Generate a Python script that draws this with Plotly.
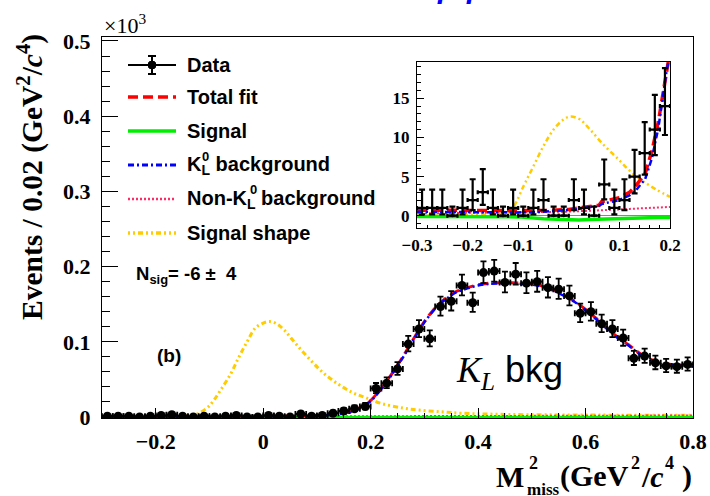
import numpy as np
import plotly.graph_objects as go

# ---------------- data (events per 0.02 GeV^2/c^4) ----------------
bin_centers = np.round(-0.29 + 0.02 * np.arange(55), 2)
counts = [1, 1, 1, 0, 1, 2, 3, 1, 0, 1, 0, 1, 2, 0, 0, 2, 1, 0, 4, 1, 2, 5, 8, 11, 14,
          38, 45, 64, 97, 117, 104, 147, 154, 175, 152, 192, 194, 179, 190, 178, 180,
          172, 170, 161, 138, 140, 124, 117, 105, 78, 81, 72, 68, 67, 70]

# main-panel curves (units of 10^3 events)
tot_x = [-0.3, -0.2, -0.1, 0.0, 0.05, 0.1, 0.13, 0.15, 0.17, 0.19, 0.20, 0.22, 0.24, 0.26, 0.28,
         0.30, 0.32, 0.34, 0.36, 0.38, 0.40, 0.42, 0.45, 0.48, 0.50, 0.52, 0.54, 0.56, 0.58,
         0.60, 0.62, 0.64, 0.66, 0.68, 0.70, 0.72, 0.74, 0.76, 0.78, 0.80]
tot_main = [0.0007, 0.00065, 0.0006, 0.0008, 0.0012, 0.0023, 0.0037, 0.0053, 0.0085, 0.0175,
            0.022, 0.038, 0.058, 0.080, 0.104, 0.127, 0.145, 0.158, 0.167, 0.172, 0.176,
            0.178, 0.179, 0.178, 0.177, 0.174, 0.169, 0.162, 0.154, 0.143, 0.131, 0.118,
            0.106, 0.096, 0.085, 0.077, 0.072, 0.070, 0.069, 0.068]
kl_main = [0.0005, 0.00045, 0.0004, 0.0006, 0.001, 0.002, 0.003, 0.0046, 0.0078, 0.0168,
           0.021, 0.037, 0.057, 0.079, 0.103, 0.126, 0.144, 0.157, 0.166, 0.171, 0.175,
           0.177, 0.178, 0.177, 0.176, 0.173, 0.168, 0.161, 0.153, 0.142, 0.130, 0.117,
           0.105, 0.095, 0.084, 0.076, 0.071, 0.069, 0.068, 0.067]
nonkl_x = [-0.3, 0.0, 0.2, 0.4, 0.6, 0.8]
nonkl_main = [0.0003, 0.0005, 0.0011, 0.0015, 0.0018, 0.002]
sig_x = [-0.3, 0.8]
sig_main = [-0.0002, -0.0002]
shape_x = [-0.3, -0.2, -0.15, -0.13, -0.12, -0.1, -0.08, -0.06, -0.045, -0.03, -0.015, 0.0,
           0.012, 0.025, 0.04, 0.06, 0.085, 0.11, 0.135, 0.165, 0.19, 0.22, 0.26, 0.29, 0.33,
           0.37, 0.45, 0.55, 0.65, 0.8]
shape_main = [0.0006, 0.0007, 0.001, 0.003, 0.005, 0.015, 0.035, 0.058, 0.08, 0.1, 0.118,
              0.125, 0.127, 0.124, 0.115, 0.098, 0.078, 0.06, 0.046, 0.033, 0.026, 0.018,
              0.012, 0.0093, 0.007, 0.005, 0.0035, 0.0028, 0.0025, 0.0022]

# inset curves (events)
ins_x = [-0.3, -0.25, -0.2, -0.15, -0.1, -0.05, 0.0, 0.02, 0.04, 0.06, 0.065, 0.08, 0.1,
         0.12, 0.131, 0.151, 0.164, 0.177, 0.187, 0.1935, 0.2]
ins_tot = [0.7, 0.68, 0.65, 0.62, 0.6, 0.65, 0.8, 0.95, 1.2, 1.35, 1.8, 2.0, 2.3, 3.0, 3.7,
           5.4, 8.2, 12.0, 16.3, 19.2, 21.0]
ins_kl = [0.5, 0.48, 0.45, 0.43, 0.42, 0.5, 0.7, 0.85, 1.1, 1.25, 1.5, 1.7, 2.0, 2.6, 3.1,
          4.7, 7.3, 11.2, 15.6, 18.6, 20.5]
ins_nonkl = [0.3, 0.32, 0.35, 0.38, 0.42, 0.47, 0.52, 0.56, 0.6, 0.65, 0.67, 0.72, 0.8, 0.87,
             0.9, 0.97, 1.0, 1.05, 1.08, 1.1, 1.12]
ins_sig = [-0.1, -0.1, -0.1, -0.1, -0.15, -0.4, -0.55, -0.55, -0.5, -0.45, -0.43, -0.38,
           -0.33, -0.3, -0.28, -0.26, -0.25, -0.24, -0.24, -0.23, -0.23]
ins_shape_x = [-0.3, -0.2, -0.13, -0.12, -0.109, -0.09, -0.07, -0.05, -0.03, -0.01, 0.003,
               0.022, 0.042, 0.068, 0.095, 0.121, 0.147, 0.174, 0.2]
ins_shape = [0.05, 0.07, 0.3, 0.5, 1.16, 3.7, 6.3, 8.9, 11.0, 12.3, 12.66, 12.3, 11.0, 9.1,
             7.4, 5.7, 4.4, 3.3, 2.4]

main_xtick_vals = [-0.2, 0, 0.2, 0.4, 0.6, 0.8]
main_xtick_text = ["\u22120.2", "0", "0.2", "0.4", "0.6", "0.8"]
main_ytick_vals = [0, 0.1, 0.2, 0.3, 0.4, 0.5]
main_ytick_text = ["0", "0.1", "0.2", "0.3", "0.4", "0.5"]
ins_xtick_vals = [-0.3, -0.2, -0.1, 0, 0.1, 0.2]
ins_xtick_text = ["\u22120.3", "\u22120.2", "\u22120.1", "0", "0.1", "0.2"]
ins_ytick_vals = [0, 5, 10, 15]
ins_ytick_text = ["0", "5", "10", "15"]

legend_labels = ["Data", "Total fit", "Signal", "K<sub>L</sub>&nbsp;background",
                 "Non-K<sub>L</sub>&nbsp;background", "Signal shape"]

# ---------------- colours / styles ----------------
RED = "#ff0000"
GREEN = "#00ee00"
BLUE = "#0000ff"
PINK = "#ff2a66"
YELLOW = "#ffcc00"
DASH_TOT = "10px,5px"
DASH_KL = "6px,3px,2px,3px"
DASH_NONKL = "2px,2px"
DASH_SHAPE = "2px,3px,2px,3px,5px,3px"
SERIF = "Liberation Serif"
SANS = "Liberation Sans"

W, H = 710, 496
L, R, T, B = 102, 693, 37, 418


def PX(X):
    return (X - L) / (R - L)


def PY(Y):
    return (B - Y) / (B - T)


def poisson_err(n):
    n = np.asarray(n, float)
    nn = np.maximum(n, 1)
    up = np.where(n > 0, 1 + np.sqrt(n + 0.75), 1.15)
    lo_lim = np.where(n > 0, n * (1 - 1 / (9 * nn) - 1 / (3 * np.sqrt(nn))) ** 3, 0.0)
    return n - lo_lim, up


cnt = np.array(counts, float)
e_lo, e_up = poisson_err(cnt)

fig = go.Figure()

# ---- main panel curves ----
fig.add_trace(go.Scatter(x=shape_x, y=shape_main, mode="lines", line=dict(color=YELLOW, width=3, dash=DASH_SHAPE, shape="spline"), xaxis="x", yaxis="y"))
fig.add_trace(go.Scatter(x=nonkl_x, y=nonkl_main, mode="lines", line=dict(color=PINK, width=2, dash=DASH_NONKL), xaxis="x", yaxis="y"))
fig.add_trace(go.Scatter(x=sig_x, y=sig_main, mode="lines", line=dict(color=GREEN, width=3), xaxis="x", yaxis="y"))
fig.add_trace(go.Scatter(x=tot_x, y=tot_main, mode="lines", line=dict(color=RED, width=3, dash=DASH_TOT, shape="spline", smoothing=0.6), xaxis="x", yaxis="y"))
fig.add_trace(go.Scatter(x=tot_x, y=kl_main, mode="lines", line=dict(color=BLUE, width=2.5, dash=DASH_KL, shape="spline", smoothing=0.6), xaxis="x", yaxis="y"))
fig.add_trace(go.Scatter(
    x=bin_centers, y=cnt / 1000.0, mode="markers",
    marker=dict(color="black", size=9, symbol="circle"),
    error_y=dict(type="data", symmetric=False, array=e_up / 1000.0, arrayminus=e_lo / 1000.0,
                 color="black", thickness=1.8, width=3),
    error_x=dict(type="constant", value=0.01, color="black", thickness=1.8, width=3),
    xaxis="x", yaxis="y"))

# ---- inset curves ----
fig.add_trace(go.Scatter(x=ins_shape_x, y=ins_shape, mode="lines", line=dict(color=YELLOW, width=2.5, dash=DASH_SHAPE, shape="spline"), xaxis="x2", yaxis="y2"))
fig.add_trace(go.Scatter(x=ins_x, y=ins_nonkl, mode="lines", line=dict(color=PINK, width=2, dash=DASH_NONKL), xaxis="x2", yaxis="y2"))
fig.add_trace(go.Scatter(x=ins_x, y=ins_sig, mode="lines", line=dict(color=GREEN, width=3.5), xaxis="x2", yaxis="y2"))
fig.add_trace(go.Scatter(x=ins_x, y=ins_tot, mode="lines", line=dict(color=RED, width=3.5, dash=DASH_TOT), xaxis="x2", yaxis="y2"))
fig.add_trace(go.Scatter(x=ins_x, y=ins_kl, mode="lines", line=dict(color=BLUE, width=2.5, dash=DASH_KL), xaxis="x2", yaxis="y2"))
fig.add_trace(go.Scatter(
    x=bin_centers, y=cnt, mode="markers",
    marker=dict(color="black", size=3),
    error_y=dict(type="data", symmetric=False, array=e_up, arrayminus=e_lo,
                 color="black", thickness=2.2, width=3),
    error_x=dict(type="constant", value=0.01, color="black", thickness=2.2, width=2),
    xaxis="x2", yaxis="y2"))

tickfont_main = dict(family=SERIF, size=22, color="black", weight="bold")
tickfont_ins = dict(family=SERIF, size=17, color="black", weight="bold")

fig.update_layout(
    width=W, height=H, showlegend=False,
    paper_bgcolor="white", plot_bgcolor="white",
    margin=dict(l=L, r=W - R, t=T, b=H - B, pad=0, autoexpand=False),
    xaxis=dict(domain=[0, 1], range=[-0.3, 0.8], showgrid=False, zeroline=False, automargin=False,
               showline=True, linecolor="black", linewidth=1, mirror=True,
               ticks="inside", ticklen=10, tickcolor="black", tickwidth=1,
               tickvals=main_xtick_vals, ticktext=main_xtick_text, tickfont=tickfont_main,
               ticklabelstandoff=4,
               minor=dict(ticks="inside", dtick=0.05, tick0=0, ticklen=5, tickcolor="black")),
    yaxis=dict(domain=[0, 1], range=[-0.0013, 0.5053], showgrid=False, zeroline=False, automargin=False,
               showline=True, linecolor="black", linewidth=1, mirror=True,
               ticks="inside", ticklen=16, tickcolor="black", tickwidth=1,
               tickvals=main_ytick_vals, ticktext=main_ytick_text, tickfont=tickfont_main,
               ticklabelstandoff=6,
               minor=dict(ticks="inside", dtick=0.02, tick0=0, ticklen=8, tickcolor="black")),
    xaxis2=dict(domain=[PX(417), PX(670)], anchor="y2", range=[-0.3, 0.2], showgrid=False, automargin=False,
                zeroline=False, showline=True, linecolor="black", linewidth=1, mirror=True,
                ticks="inside", ticklen=6, tickcolor="black",
                tickvals=ins_xtick_vals, ticktext=ins_xtick_text, tickfont=tickfont_ins,
                ticklabelstandoff=2,
                minor=dict(ticks="inside", dtick=0.02, tick0=0, ticklen=3, tickcolor="black")),
    yaxis2=dict(domain=[PY(228), PY(62)], anchor="x2", range=[-1.57, 19.63], showgrid=False, automargin=False,
                zeroline=True, zerolinecolor="#888888", zerolinewidth=1,
                showline=True, linecolor="black", linewidth=1, mirror=True,
                ticks="inside", ticklen=7, tickcolor="black",
                tickvals=ins_ytick_vals, ticktext=ins_ytick_text, tickfont=tickfont_ins,
                ticklabelstandoff=3,
                minor=dict(ticks="inside", dtick=1, tick0=0, ticklen=4, tickcolor="black")),
)

# ---------------- legend (drawn by hand) ----------------
shapes = []
leg_y = [65, 97, 131, 165, 199, 233]
x0, x1, xm = 128, 176, 152
shapes.append(dict(type="line", xref="paper", yref="paper", x0=PX(x0), x1=PX(x1), y0=PY(leg_y[0]), y1=PY(leg_y[0]), line=dict(color="black", width=2)))
shapes.append(dict(type="line", xref="paper", yref="paper", x0=PX(xm), x1=PX(xm), y0=PY(leg_y[0] - 9), y1=PY(leg_y[0] + 9), line=dict(color="black", width=2)))
for dy in (-9, 9):
    shapes.append(dict(type="line", xref="paper", yref="paper", x0=PX(xm - 4), x1=PX(xm + 4), y0=PY(leg_y[0] + dy), y1=PY(leg_y[0] + dy), line=dict(color="black", width=2)))
shapes.append(dict(type="circle", xref="paper", yref="paper", x0=PX(xm - 4), x1=PX(xm + 4), y0=PY(leg_y[0] - 4), y1=PY(leg_y[0] + 4), fillcolor="black", line=dict(color="black", width=1)))
styles = [(RED, 3.5, DASH_TOT), (GREEN, 3.5, "solid"), (BLUE, 3, DASH_KL), (PINK, 2.5, DASH_NONKL), (YELLOW, 3.5, DASH_SHAPE)]
for (col, wd, ds), yy in zip(styles, leg_y[1:]):
    shapes.append(dict(type="line", xref="paper", yref="paper", x0=PX(x0), x1=PX(x1), y0=PY(yy), y1=PY(yy), line=dict(color=col, width=wd, dash=ds)))

ann = []
legfont = dict(family=SANS, size=20, color="black", weight="bold")
for lab, yy in zip(legend_labels, leg_y):
    ann.append(dict(text=lab, xref="paper", yref="paper", x=PX(185), y=PY(yy), xanchor="left", yanchor="middle", showarrow=False, font=legfont))
ann.append(dict(text="0", xref="paper", yref="paper", x=PX(205), y=PY(156), xanchor="center", yanchor="middle", showarrow=False, font=dict(family=SANS, size=13, color="black", weight="bold")))
ann.append(dict(text="0", xref="paper", yref="paper", x=PX(253), y=PY(190), xanchor="center", yanchor="middle", showarrow=False, font=dict(family=SANS, size=13, color="black", weight="bold")))

ann.append(dict(text="N<sub>sig</sub>= -6 \u00b1  4", xref="paper", yref="paper", x=PX(134), y=PY(275), xanchor="left", yanchor="middle", showarrow=False, font=dict(family=SANS, size=18.5, color="black", weight="bold")))
ann.append(dict(text="(b)", xref="paper", yref="paper", x=PX(169), y=PY(355), xanchor="center", yanchor="middle", showarrow=False, font=dict(family=SANS, size=19, color="black", weight="bold")))
ann.append(dict(text="<span style='font-family:Liberation Serif'><i>K<sub>L</sub></i></span> bkg", xref="paper", yref="paper", x=PX(454), y=PY(372), xanchor="left", yanchor="middle", showarrow=False, font=dict(family=SANS, size=36, color="black")))

# axis titles
ann.append(dict(text="<b>Events / 0.02 (GeV<sup>2</sup>/<i>c</i><sup>4</sup>)</b>", textangle=-90, xref="paper", yref="paper", x=PX(30), y=PY(32), xanchor="center", yanchor="top", showarrow=False, font=dict(family=SERIF, size=29.5, color="black")))
xt_font = dict(family=SERIF, size=30, color="black", weight="bold")
xt_small = dict(family=SERIF, size=18, color="black", weight="bold")
XT_MID = 476
XT_SUP = 463
ann.append(dict(text="M", xref="paper", yref="paper", x=PX(526), y=PY(XT_MID), xanchor="right", yanchor="middle", showarrow=False, font=xt_font))
ann.append(dict(text="2", xref="paper", yref="paper", x=PX(527), y=PY(XT_SUP), xanchor="left", yanchor="middle", showarrow=False, font=xt_small))
ann.append(dict(text="miss", xref="paper", yref="paper", x=PX(525), y=PY(489), xanchor="left", yanchor="middle", showarrow=False, font=dict(family=SERIF, size=17, color="black", weight="bold")))
ann.append(dict(text="(GeV", xref="paper", yref="paper", x=PX(558), y=PY(XT_MID), xanchor="left", yanchor="middle", showarrow=False, font=xt_font))
ann.append(dict(text="2", xref="paper", yref="paper", x=PX(629), y=PY(XT_SUP), xanchor="left", yanchor="middle", showarrow=False, font=xt_small))
ann.append(dict(text="/<i>c</i>", xref="paper", yref="paper", x=PX(639), y=PY(XT_MID), xanchor="left", yanchor="middle", showarrow=False, font=xt_font))
ann.append(dict(text="4", xref="paper", yref="paper", x=PX(663), y=PY(XT_SUP), xanchor="left", yanchor="middle", showarrow=False, font=xt_small))
ann.append(dict(text=")", xref="paper", yref="paper", x=PX(694), y=PY(XT_MID), xanchor="right", yanchor="middle", showarrow=False, font=xt_font))
ann.append(dict(text="\u00d710<sup>3</sup>", xref="paper", yref="paper", x=PX(102), y=PY(24), xanchor="left", yanchor="middle", showarrow=False, font=dict(family=SERIF, size=22, color="black")))

# cut-off blue glyphs at the very top
for xx in (446, 475):
    ann.append(dict(text="<b><i>p</i></b>", xref="paper", yref="paper", x=PX(xx), y=PY(6), xanchor="center", yanchor="bottom", showarrow=False, font=dict(family=SANS, size=30, color=BLUE)))

fig.update_layout(shapes=shapes, annotations=ann)
fig.write_html("out.html", config={"displayModeBar": False},
               post_script="document.body.style.margin='0';document.body.style.overflow='hidden';")
